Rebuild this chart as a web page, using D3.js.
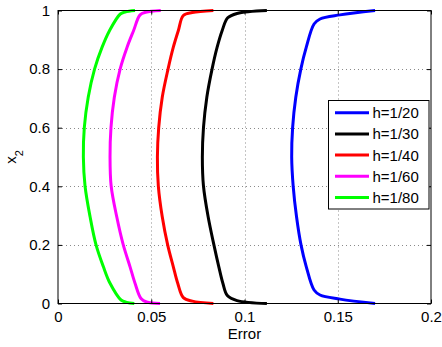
<!DOCTYPE html>
<html><head><meta charset="utf-8">
<script src="https://cdn.jsdelivr.net/npm/d3@7/dist/d3.min.js"></script>
<style>body{margin:0;background:#fff}svg{display:block}text{font-family:"Liberation Sans",Arial,sans-serif;fill:#000}</style>
</head><body><svg id="c" width="442" height="347"></svg>
<script>
const xTicks = [0, 0.05, 0.1, 0.15, 0.2];
const xTickLabels = ["0", "0.05", "0.1", "0.15", "0.2"];
const yTicks = [0, 0.2, 0.4, 0.6, 0.8, 1];
const yTickLabels = ["0", "0.2", "0.4", "0.6", "0.8", "1"];
const seriesNames = ["h=1/20", "h=1/30", "h=1/40", "h=1/60", "h=1/80"];
const seriesColors = ["#0000ff", "#000000", "#ff0000", "#ff00ff", "#00ff00"];

const x2_h20 = [0, 0.015, 0.029, 0.046, 0.126, 0.2, 0.296, 0.401, 0.5, 0.6, 0.704, 0.8, 0.874, 0.954, 0.971, 0.985, 1];
const err_h20 = [0.170, 0.1512, 0.1405, 0.1373, 0.1331, 0.1303, 0.1279, 0.1261, 0.1253, 0.1258, 0.1275, 0.1302, 0.1331, 0.1373, 0.1405, 0.1512, 0.170];
const x2_h30 = [0, 0.010, 0.027, 0.069, 0.126, 0.2, 0.296, 0.401, 0.5, 0.6, 0.704, 0.8, 0.874, 0.931, 0.975, 0.990, 1];
const err_h30 = [0.112, 0.096, 0.0908, 0.0884, 0.0862, 0.0836, 0.0805, 0.0780, 0.0774, 0.0780, 0.0798, 0.0826, 0.0853, 0.0880, 0.0910, 0.096, 0.112];
const x2_h40 = [0, 0.008, 0.020, 0.069, 0.126, 0.2, 0.296, 0.401, 0.5, 0.6, 0.704, 0.8, 0.874, 0.931, 0.983, 0.993, 1];
const err_h40 = [0.0833, 0.072, 0.0672, 0.0642, 0.0618, 0.0588, 0.0559, 0.0538, 0.0533, 0.0540, 0.0559, 0.0590, 0.0618, 0.0645, 0.0672, 0.072, 0.0833];
const x2_h60 = [0, 0.005, 0.017, 0.069, 0.126, 0.2, 0.296, 0.401, 0.5, 0.6, 0.704, 0.8, 0.874, 0.931, 0.985, 0.994, 1];
const err_h60 = [0.0547, 0.0475, 0.0445, 0.0413, 0.0386, 0.0350, 0.0315, 0.0285, 0.0279, 0.0284, 0.0302, 0.0333, 0.0370, 0.0405, 0.0440, 0.0470, 0.0551];
const x2_h80 = [0, 0.004, 0.012, 0.069, 0.126, 0.2, 0.296, 0.401, 0.5, 0.6, 0.704, 0.8, 0.874, 0.931, 0.988, 0.995, 1];
const err_h80 = [0.0409, 0.0368, 0.0338, 0.0279, 0.0243, 0.0204, 0.0172, 0.0145, 0.0136, 0.0141, 0.0162, 0.0196, 0.0236, 0.0276, 0.0334, 0.0360, 0.0413];

const seriesX2 = [x2_h20, x2_h30, x2_h40, x2_h60, x2_h80];
const seriesErr = [err_h20, err_h30, err_h40, err_h60, err_h80];

const L = 58, R = 431, T = 10.5, B = 303.5;
const svg = d3.select("#c");
const x = d3.scaleLinear().domain([0, 0.2]).range([L, R]);
const y = d3.scaleLinear().domain([0, 1]).range([B, T]);

// grid
const grid = svg.append("g").attr("stroke", "#8a8a8a").attr("stroke-width", 1).attr("stroke-dasharray", "1,3");
xTicks.slice(1, -1).forEach(v => grid.append("line").attr("x1", Math.round(x(v)) + 0.5).attr("x2", Math.round(x(v)) + 0.5).attr("y1", T).attr("y2", B));
yTicks.slice(1, -1).forEach(v => grid.append("line").attr("y1", Math.round(y(v)) + 0.5).attr("y2", Math.round(y(v)) + 0.5).attr("x1", L).attr("x2", R));

// curves
const line = d3.line().x(d => x(d[1])).y(d => y(d[0])).curve(d3.curveCatmullRom.alpha(0.5));
seriesNames.forEach((n, i) => {
  const pts = seriesX2[i].map((v, j) => [v, seriesErr[i][j]]);
  svg.append("path").attr("d", line(pts)).attr("fill", "none")
    .attr("stroke", seriesColors[i]).attr("stroke-width", 3).attr("stroke-linejoin", "round");
});

// axes with inside ticks
const tl = 4;
const ax = svg.append("g");
ax.append("g").attr("transform", `translate(0,${B})`).call(d3.axisBottom(x).tickValues(xTicks).tickSize(-tl).tickFormat((d, i) => xTickLabels[i]).tickPadding(8))
  .call(g => { g.select(".domain").remove(); g.selectAll("text").attr("font-size", 15).attr("font-family", "Liberation Sans, Arial, sans-serif"); });
ax.append("g").attr("transform", `translate(0,${T})`).call(d3.axisTop(x).tickValues(xTicks).tickSize(-tl).tickFormat(""))
  .call(g => g.select(".domain").remove());
ax.append("g").attr("transform", `translate(${L},0)`).call(d3.axisLeft(y).tickValues(yTicks).tickSize(-tl).tickFormat((d, i) => yTickLabels[i]).tickPadding(8))
  .call(g => { g.select(".domain").remove(); g.selectAll("text").attr("font-size", 15).attr("font-family", "Liberation Sans, Arial, sans-serif"); });
ax.append("g").attr("transform", `translate(${R},0)`).call(d3.axisRight(y).tickValues(yTicks).tickSize(-tl).tickFormat(""))
  .call(g => g.select(".domain").remove());
svg.append("rect").attr("x", L).attr("y", T).attr("width", R - L).attr("height", B - T)
  .attr("fill", "none").attr("stroke", "#000").attr("stroke-width", 1);

// labels
svg.append("text").attr("x", (L + R) / 2).attr("y", 339).attr("text-anchor", "middle").attr("font-size", 15).text("Error");
const yl = svg.append("text").attr("transform", "translate(16,157) rotate(-90)").attr("text-anchor", "middle").attr("font-size", 15);
yl.append("tspan").text("x");
yl.append("tspan").attr("font-size", 11).attr("dy", 7).text("2");

// legend
const lg = svg.append("g");
lg.append("rect").attr("x", 328.5).attr("y", 100.5).attr("width", 100.5).attr("height", 108.5).attr("fill", "#fff").attr("stroke", "#000");
seriesNames.forEach((n, i) => {
  const yy = 112.7 + i * 21.2;
  lg.append("line").attr("x1", 335).attr("x2", 369).attr("y1", yy).attr("y2", yy).attr("stroke", seriesColors[i]).attr("stroke-width", 3);
  lg.append("text").attr("x", 372.5).attr("y", yy).attr("dy", "0.36em").attr("font-size", 15).text(n);
});
</script></body></html>
